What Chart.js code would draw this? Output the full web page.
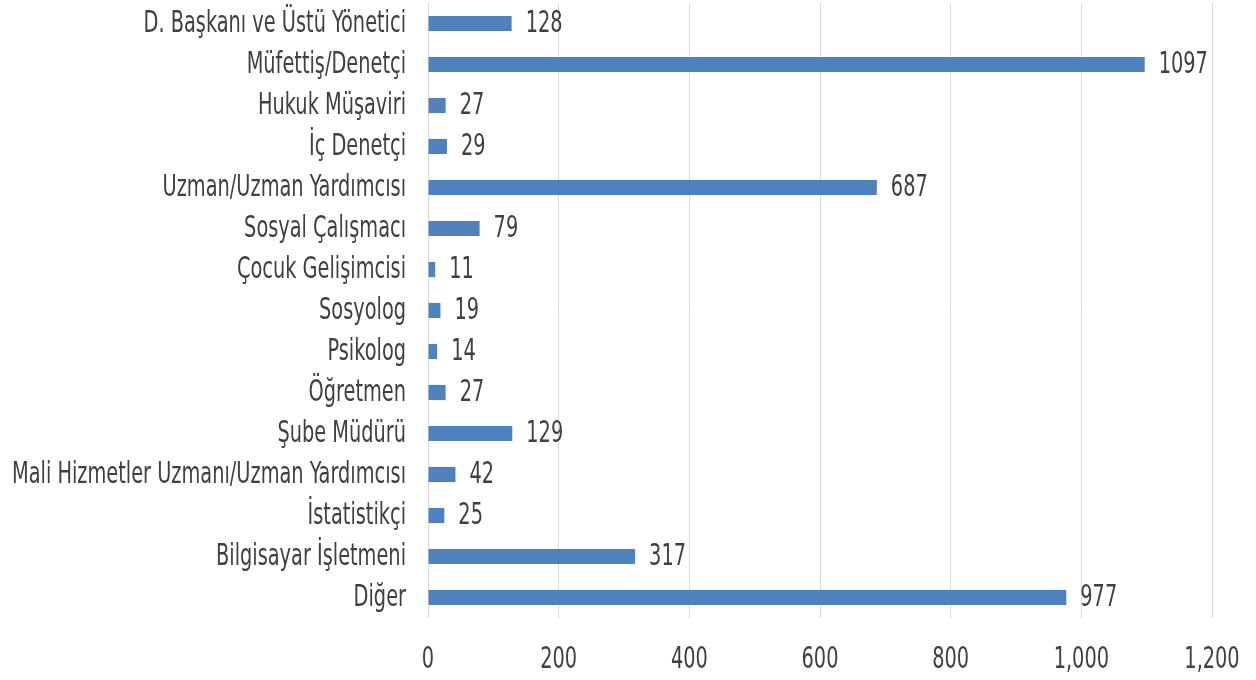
<!DOCTYPE html>
<html>
<head>
<meta charset="utf-8">
<script src="https://cdn.jsdelivr.net/npm/chart.js@4"></script>
<style>
  html, body { margin: 0; padding: 0; background: #fff; }
  #wrap { width: 1256px; height: 680px; }
</style>
</head>
<body>
<div id="wrap"><canvas id="jobs" width="1256" height="680"></canvas></div>
<script>
// personel unvanlarına göre dağılım
const categories = [
  'D. Başkanı ve Üstü Yönetici',
  'Müfettiş/Denetçi',
  'Hukuk Müşaviri',
  'İç Denetçi',
  'Uzman/Uzman Yardımcısı',
  'Sosyal Çalışmacı',
  'Çocuk Gelişimcisi',
  'Sosyolog',
  'Psikolog',
  'Öğretmen',
  'Şube Müdürü',
  'Mali Hizmetler Uzmanı/Uzman Yardımcısı',
  'İstatistikçi',
  'Bilgisayar İşletmeni',
  'Diğer'
];
const counts = [128, 1097, 27, 29, 687, 79, 11, 19, 14, 27, 129, 42, 25, 317, 977];
const xTicks = [0, 200, 400, 600, 800, 1000, 1200];

const textFont = "'DejaVu Sans Condensed', sans-serif";
const textColor = '#404040';
const stretch = 1.4; // the original text is tall and narrow

function tallText(ctx, text, x, y, align) {
  ctx.save();
  ctx.translate(x, y);
  ctx.scale(1, stretch);
  ctx.textAlign = align;
  ctx.fillText(text, 0, 0);
  ctx.restore();
}

// axis labels and the value at the end of each bar
const tallLabels = {
  id: 'tallLabels',
  afterDraw(chart) {
    const ctx = chart.ctx;
    const xs = chart.scales.x;
    const ys = chart.scales.y;
    const meta = chart.getDatasetMeta(0);
    ctx.save();
    ctx.font = '21.5px ' + textFont;
    ctx.fillStyle = textColor;
    ctx.textBaseline = 'middle';
    categories.forEach(function(name, i) {
      tallText(ctx, name, ys.right - 22, ys.getPixelForValue(i) + 1, 'right');
    });
    xTicks.forEach(function(v) {
      tallText(ctx, v.toLocaleString('en-US'), xs.getPixelForValue(v), 660, 'center');
    });
    meta.data.forEach(function(bar, i) {
      tallText(ctx, String(counts[i]), bar.x + 14, bar.y + 1, 'left');
    });
    ctx.restore();
  }
};

var ctx = document.getElementById('jobs').getContext('2d');
const myChart = new Chart(ctx, {
  type: 'bar',
  data: {
    labels: categories,
    datasets: [{
      data: counts,
      backgroundColor: '#4F81BD',
      barPercentage: 0.37,
      categoryPercentage: 1
    }]
  },
  plugins: [tallLabels],
  options: {
    indexAxis: 'y',
    responsive: false,
    animation: false,
    layout: { padding: { top: 3, right: 44, left: 0, bottom: 0 } },
    plugins: {
      legend: { display: false },
      tooltip: { enabled: false }
    },
    scales: {
      x: {
        min: 0,
        max: 1200,
        afterBuildTicks: function(scale) {
          scale.ticks = xTicks.map(function(v) { return { value: v }; });
        },
        grid: { color: '#d9d9d9', drawTicks: false },
        border: { display: false },
        ticks: { display: false },
        afterFit: function(scale) {
          scale.height = 62;
          scale.paddingLeft = 0;
          scale.paddingRight = 0;
        }
      },
      y: {
        grid: { display: false, drawTicks: false },
        border: { display: false },
        ticks: { display: false },
        afterFit: function(scale) {
          scale.width = 428;
          scale.paddingTop = 0;
          scale.paddingBottom = 0;
        }
      }
    }
  }
});
</script>
</body>
</html>
